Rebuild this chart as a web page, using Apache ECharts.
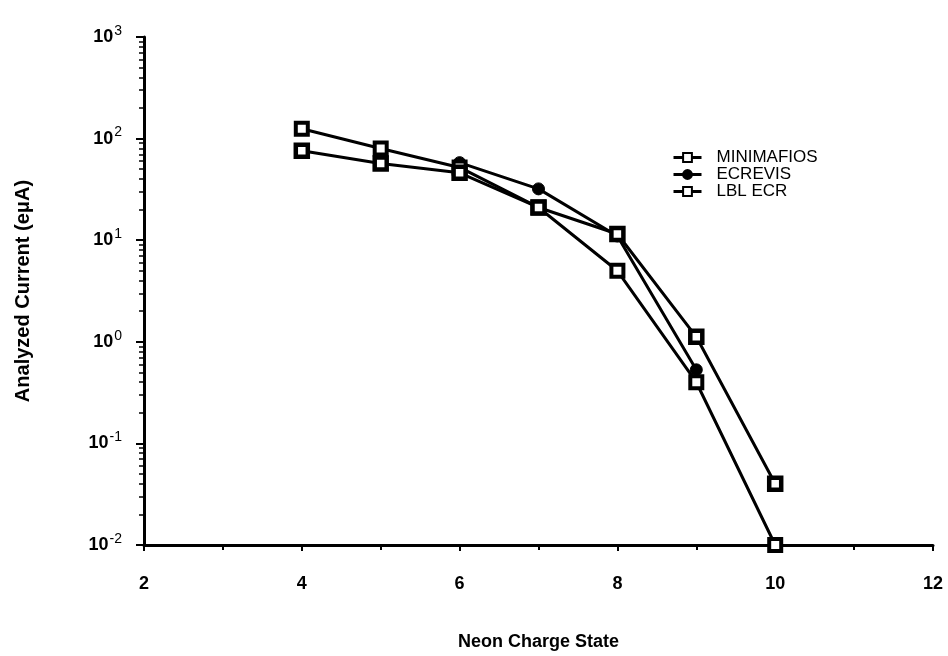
<!DOCTYPE html>
<html>
<head>
<meta charset="utf-8">
<script src="https://cdn.jsdelivr.net/npm/echarts@6/dist/echarts.min.js"></script>
<style>
  html, body { margin: 0; padding: 0; background: #fff; }
  #main { width: 948px; height: 656px; }
</style>
</head>
<body>
<div id="main"></div>
<script>
var chargeStates = [4, 5, 6, 7, 8, 9, 10];
var minimafios = [125, 80, 52, 21, 5.0, 0.40, 0.01];
var ecrevisStates = [6, 7, 8, 9];
var ecrevis = [58, 32, 11, 0.53];
var lblEcr = [76, 57, 46, 21, 11.5, 1.12, 0.04];

var font = '"Liberation Sans Narrow", "Liberation Sans", Arial, sans-serif';
var wideFont = '"Liberation Sans", Arial, sans-serif';

function pairs(xs, ys) {
    var result = [];
    for (var i = 0; i < xs.length; i++) {
        result.push([xs[i], ys[i]]);
    }
    return result;
}

var chart = echarts.init(document.getElementById("main"));

var option = {
    animation: false,
    backgroundColor: '#fff',
    grid: { left: 144, right: 15, top: 37, bottom: 111 },
    legend: {
        orient: 'vertical',
        left: 667,
        top: 144,
        itemWidth: 28,
        itemHeight: 11,
        itemGap: 0,
        lineStyle: { width: 3 },
        textStyle: { fontFamily: font, fontSize: 17, color: '#000', padding: [0, 0, 0, 10] },
        data: ['MINIMAFIOS', 'ECREVIS', 'LBL ECR']
    },
    xAxis: {
        type: 'value',
        min: 2,
        max: 12,
        interval: 2,
        name: 'Neon Charge State',
        nameLocation: 'middle',
        nameGap: 88,
        nameTextStyle: { fontFamily: font, fontSize: 18, fontWeight: 'bold', color: '#000' },
        axisLine: { lineStyle: { color: '#000', width: 3 } },
        axisTick: { length: 6, lineStyle: { color: '#000', width: 2 } },
        minorTick: { show: true, splitNumber: 2, length: 5, lineStyle: { color: '#000', width: 2 } },
        axisLabel: { margin: 30, fontFamily: font, fontSize: 18, fontWeight: 'bold', color: '#000' },
        splitLine: { show: false }
    },
    yAxis: {
        type: 'log',
        logBase: 10,
        min: 0.01,
        max: 1000,
        name: 'Analyzed Current (e\u03BCA)',
        nameLocation: 'middle',
        nameGap: 111,
        nameTextStyle: { fontFamily: wideFont, fontSize: 20, fontWeight: 'bold', color: '#000' },
        axisLine: { show: true, lineStyle: { color: '#000', width: 3 } },
        axisTick: { length: 8, lineStyle: { color: '#000', width: 2 } },
        minorTick: { show: true, splitNumber: 9, length: 5, lineStyle: { color: '#000', width: 1.5 } },
        splitLine: { show: false },
        axisLabel: {
            margin: 22,
            formatter: function (v) {
                var e = Math.round(Math.log10(v));
                return '{b|10}{s|' + e + '}';
            },
            rich: {
                b: { fontFamily: font, fontSize: 18, fontWeight: 'bold', color: '#000' },
                s: { fontFamily: font, fontSize: 14, color: '#000', verticalAlign: 'top', padding: [0, 0, 12, 1] }
            }
        }
    },
    series: [
        {
            name: 'MINIMAFIOS',
            type: 'line',
            data: pairs(chargeStates, minimafios),
            symbol: 'rect',
            symbolSize: 12,
            lineStyle: { color: '#000', width: 3 },
            itemStyle: { color: '#fff', borderColor: '#000', borderWidth: 4 },
            z: 3
        },
        {
            name: 'ECREVIS',
            type: 'line',
            data: pairs(ecrevisStates, ecrevis),
            symbol: 'circle',
            symbolSize: 12,
            lineStyle: { color: '#000', width: 3 },
            itemStyle: { color: '#000', borderColor: '#000', borderWidth: 1 },
            z: 2
        },
        {
            name: 'LBL ECR',
            type: 'line',
            data: pairs(chargeStates, lblEcr),
            symbol: 'rect',
            symbolSize: 12,
            lineStyle: { color: '#000', width: 3 },
            itemStyle: { color: '#fff', borderColor: '#000', borderWidth: 4.5 },
            z: 4
        }
    ]
};

chart.setOption(option);
</script>
</body>
</html>
